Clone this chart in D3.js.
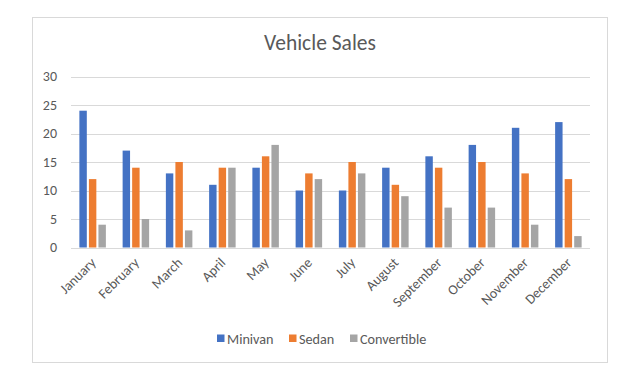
<!DOCTYPE html>
<html><head><meta charset="utf-8">
<script src="https://cdn.jsdelivr.net/npm/d3@7"></script>
<style>body{margin:0;background:#fff}svg{display:block}text{font-family:Carlito,Lato,"Open Sans",sans-serif}</style>
</head><body><svg id="c" width="635" height="383"></svg>
<script>
const categories = ["January","February","March","April","May","June","July","August","September","October","November","December"];
const minivan = [24,17,13,11,14,10,10,14,16,18,21,22];
const sedan = [12,14,15,14,16,13,15,11,14,15,13,12];
const convertible = [4,5,3,14,18,12,13,9,7,7,4,2];
const seriesNames = ["Minivan","Sedan","Convertible"];
const colors = ["#4472C4","#ED7D31","#A5A5A5"];
const yTicks = [0,5,10,15,20,25,30];
const seriesData = [minivan, sedan, convertible];
const FF = "Carlito,Lato,'Open Sans',sans-serif";

const svg = d3.select("#c");
svg.append("rect").attr("x",32.5).attr("y",17.5).attr("width",575).attr("height",345)
  .attr("fill","#fff").attr("stroke","#d9d9d9");
svg.append("text").attr("x",320).attr("y",50).attr("text-anchor","middle")
  .attr("font-size",21.5).attr("fill","#595959").text("Vehicle Sales");

const L=71, R=590, T=76.5, B=247.5;
const x = d3.scaleBand().domain(categories).range([L,R]).paddingInner(0).paddingOuter(0);
const y = d3.scaleLinear().domain([0,30]).range([B,T]);
const xs = d3.scaleBand().domain(seriesNames).range([0,26.5]).paddingInner(0.22);

const g = svg.append("g");
g.selectAll("line.grid").data(yTicks).join("line").attr("class","grid")
  .attr("x1",L).attr("x2",R).attr("y1",d=>Math.round(y(d))+0.5).attr("y2",d=>Math.round(y(d))+0.5)
  .attr("stroke","#d9d9d9").attr("stroke-width",1);

const yAxis = d3.axisLeft(y).tickValues(yTicks).tickSize(0).tickPadding(14);
const ya = svg.append("g").attr("transform",`translate(${L},0)`).call(yAxis);
ya.select(".domain").remove();
ya.selectAll("text").attr("font-size",14).attr("fill","#595959").attr("font-family",FF);

seriesData.forEach((arr,si)=>{
  g.selectAll("rect.s"+si).data(arr).join("rect").attr("class","s"+si)
    .attr("x",(d,i)=>x(categories[i])+x.bandwidth()/2-13.25+xs(seriesNames[si]))
    .attr("width",xs.bandwidth())
    .attr("y",d=>y(d)).attr("height",d=>B-y(d))
    .attr("fill",colors[si]);
});

const xAxis = d3.axisBottom(x).tickSize(0).tickPadding(0);
const xa = svg.append("g").attr("transform",`translate(0,${B})`).call(xAxis);
xa.select(".domain").remove();
xa.selectAll("text").attr("font-size",14).attr("fill","#595959")
  .attr("font-family",FF)
  .attr("text-anchor","end").attr("dy",null).attr("y",0)
  .attr("transform","translate(4,16) rotate(-45)");

const legend = svg.append("g");
const lx = [217, 289, 350];
seriesNames.forEach((n,i)=>{
  legend.append("rect").attr("x",lx[i]).attr("y",334.5).attr("width",7.5).attr("height",7.5).attr("fill",colors[i]);
  legend.append("text").attr("x",lx[i]+10).attr("y",343.5).attr("font-size",14.2).attr("fill","#595959").text(n);
});
</script></body></html>
